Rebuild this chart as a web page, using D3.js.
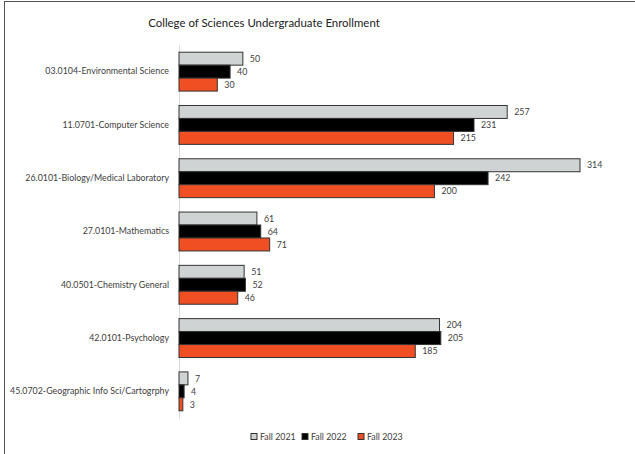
<!DOCTYPE html>
<html><head><meta charset="utf-8">
<script src="https://cdn.jsdelivr.net/npm/d3@7"></script>
<style>body{margin:0;background:#fff;} svg{display:block;}</style>
</head><body>
<script>
const categories = ["03.0104-Environmental Science","11.0701-Computer Science","26.0101-Biology/Medical Laboratory","27.0101-Mathematics","40.0501-Chemistry General","42.0101-Psychology","45.0702-Geographic Info Sci/Cartogrphy"];
const seriesNames = ["Fall 2021","Fall 2022","Fall 2023"];
const fall2021 = [50,257,314,61,51,204,7];
const fall2022 = [40,231,242,64,52,205,4];
const fall2023 = [30,215,200,71,46,185,3];
const seriesValues = [fall2021, fall2022, fall2023];
const colors = ["#d0d3d4","#000000","#f04e23"];

const W = 635, H = 454;
const font = "Lato, sans-serif";
const svg = d3.select("body").append("svg").attr("width", W).attr("height", H);
svg.append("rect").attr("x",4.5).attr("y",1.5).attr("width",W+10).attr("height",H+10).attr("fill","#fff").attr("stroke","#555").attr("stroke-width",1);

const title = svg.append("text").attr("x",264).attr("y",27).attr("text-anchor","middle")
  .attr("font-family",font).attr("font-size",14).attr("fill","#222")
  .text("College of Sciences Undergraduate Enrollment");
// fit title to reference width
const tw = title.node().getComputedTextLength();
title.attr("font-size", 14 * 232 / tw);

const x = d3.scaleLinear().domain([0,314]).range([179,580]);
const y = d3.scaleBand().domain(categories).range([45,418]).paddingInner(0.27).paddingOuter(0.135);
const ys = d3.scaleBand().domain(seriesNames).range([0,y.bandwidth()]);

const yAxis = d3.axisLeft(y).tickSize(0).tickPadding(10);
const ag = svg.append("g").attr("transform",`translate(${x(0)},0)`).call(yAxis);
ag.select(".domain").attr("stroke","#d9d9d9");
ag.selectAll("text").attr("font-family",font).attr("font-size",9).attr("fill","#404040");
// fit label font to reference width of first label (124px)
const lw = ag.select(".tick text").node().getComputedTextLength();
const lfs = 9 * 124 / lw;
ag.selectAll("text").attr("font-size", lfs);

const g = svg.append("g");
categories.forEach((c,i)=>{
  seriesNames.forEach((s,j)=>{
    const v = seriesValues[j][i];
    g.append("rect").attr("x",x(0)).attr("y",y(c)+ys(s)).attr("width",x(v)-x(0)).attr("height",ys.bandwidth())
      .attr("fill",colors[j]).attr("stroke","#333").attr("stroke-width",1);
    g.append("text").attr("x",x(v)+7).attr("y",y(c)+ys(s)+ys.bandwidth()/2+3.2)
      .attr("font-family",font).attr("font-size",lfs).attr("fill","#404040").text(v);
  });
});

const legendX = [251, 302, 358];
const lg = svg.append("g");
seriesNames.forEach((s,j)=>{
  lg.append("rect").attr("x",legendX[j]).attr("y",433.5).attr("width",6).attr("height",6)
    .attr("fill",colors[j]).attr("stroke","#333").attr("stroke-width",1);
  lg.append("text").attr("x",legendX[j]+9).attr("y",440).attr("font-family",font).attr("font-size",lfs).attr("fill","#404040").text(s);
});
</script>
</body></html>
